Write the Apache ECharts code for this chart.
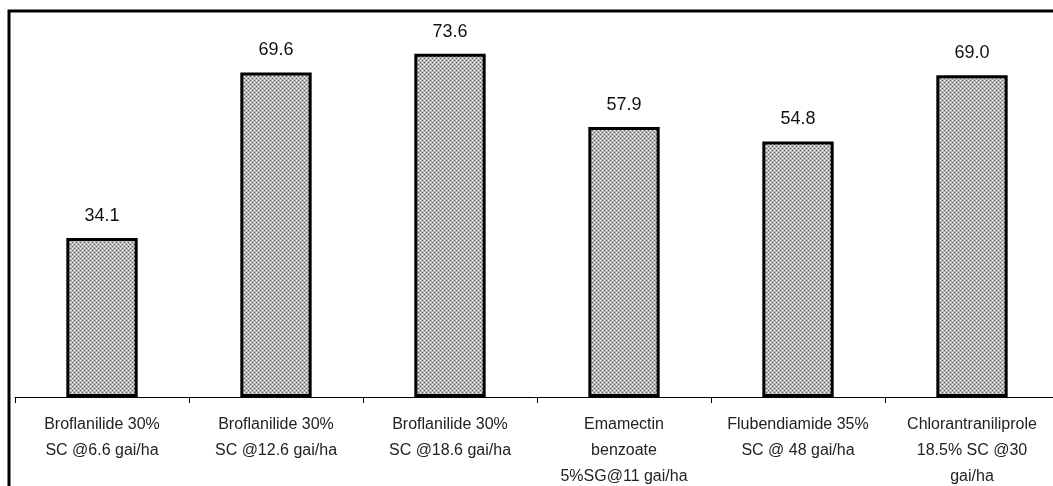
<!DOCTYPE html>
<html>
<head>
<meta charset="utf-8">
<script src="https://cdn.jsdelivr.net/npm/echarts@6/dist/echarts.min.js"></script>
<style>
  html, body { margin: 0; padding: 0; background: #fff; }
  #chart { width: 1053px; height: 486px; }
</style>
</head>
<body>
<div id="chart"></div>
<script>
// treatments and values
const treatments = [
  'Broflanilide 30%\nSC @6.6 gai/ha',
  'Broflanilide 30%\nSC @12.6 gai/ha',
  'Broflanilide 30%\nSC @18.6 gai/ha',
  'Emamectin\nbenzoate\n5%SG@11 gai/ha',
  'Flubendiamide 35%\nSC @ 48 gai/ha',
  'Chlorantraniliprole\n18.5% SC @30\ngai/ha'
]
const values = [34.1, 69.6, 73.6, 57.9, 54.8, 69.0]

// dotted gray fill, like the old office pattern
function makePattern() {
  const c = document.createElement('canvas')
  c.width = 4
  c.height = 4
  const ctx = c.getContext('2d')
  ctx.fillStyle = '#b8b8b8'
  ctx.fillRect(0, 0, 4, 4)
  ctx.fillStyle = '#ffffff'
  ctx.fillRect(0, 0, 1, 1)
  ctx.fillRect(2, 2, 1, 1)
  ctx.fillStyle = '#5a5a5a'
  ctx.fillRect(2, 0, 1, 1)
  ctx.fillRect(0, 2, 1, 1)
  return c
}

const chart = echarts.init(document.getElementById('chart'))
const option = {
  backgroundColor: '#ffffff',
  animation: false,
  graphic: [{
    type: 'rect',
    shape: { x: 9, y: 11, width: 1200, height: 700 },
    style: { fill: 'none', stroke: '#000', lineWidth: 3 },
    silent: true
  }],
  grid: {
    left: 15,
    right: -6,
    top: 24,
    bottom: 89,
    outerBoundsMode: 'none'
  },
  xAxis: {
    type: 'category',
    data: treatments,
    axisLine: { lineStyle: { color: '#000', width: 1 } },
    axisTick: { show: true, length: 6, lineStyle: { color: '#000' } },
    axisLabel: {
      interval: 0,
      margin: 15,
      color: '#222',
      fontFamily: 'Liberation Sans, Arial, sans-serif',
      fontSize: 16,
      lineHeight: 26
    }
  },
  yAxis: {
    type: 'value',
    min: 0,
    max: 80,
    show: false,
    splitLine: { show: false }
  },
  series: [{
    type: 'bar',
    data: values,
    barWidth: '41%',
    itemStyle: {
      color: { image: makePattern(), repeat: 'repeat' },
      borderColor: '#000',
      borderWidth: 3
    },
    label: {
      show: true,
      position: 'top',
      distance: 13,
      formatter: p => p.value.toFixed(1),
      color: '#111',
      fontFamily: 'Liberation Sans, Arial, sans-serif',
      fontSize: 18
    }
  }]
}
chart.setOption(option)
</script>
</body>
</html>
